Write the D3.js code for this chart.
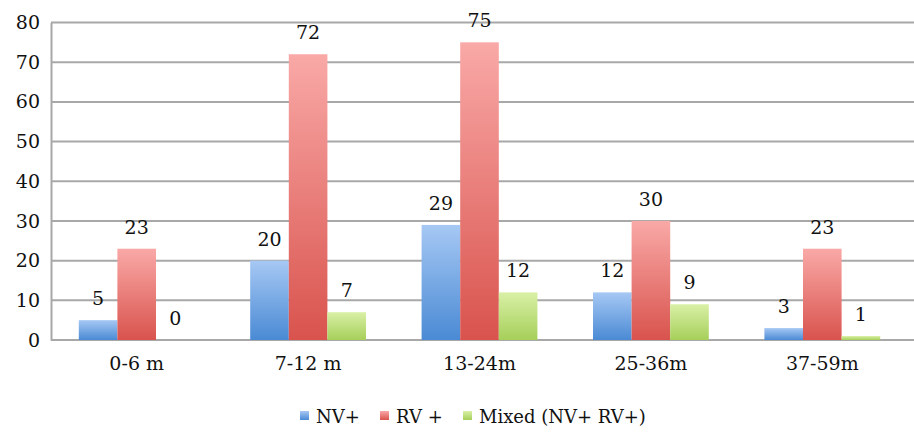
<!DOCTYPE html>
<html>
<head>
<meta charset="utf-8">
<script src="https://cdn.jsdelivr.net/npm/d3@7/dist/d3.min.js"></script>
<style>
  html, body { margin: 0; padding: 0; background: #fff; }
  svg { display: block; font-family: "DejaVu Serif", "Liberation Serif", serif; }
</style>
</head>
<body>
<svg id="chart" width="914" height="433"></svg>
<script>
// Age groups and case counts per virus type
const categories = ["0-6 m", "7-12 m", "13-24m", "25-36m", "37-59m"];
const seriesNames = ["NV+", "RV +", "Mixed (NV+ RV+)"];
const nvValues = [5, 20, 29, 12, 3];
const rvValues = [23, 72, 75, 30, 23];
const mixedValues = [0, 7, 12, 9, 1];
const yTicks = [0, 10, 20, 30, 40, 50, 60, 70, 80];

const seriesValues = [nvValues, rvValues, mixedValues];
const gradients = [
  { id: "g-nv", top: "#a6c8f4", bottom: "#4a8ad4" },
  { id: "g-rv", top: "#f9a9a7", bottom: "#d9534d" },
  { id: "g-mx", top: "#d9f0a6", bottom: "#a6cf5a" }
];

const svg = d3.select("#chart");
const plotLeft = 51, plotRight = 908, plotTop = 22.5, plotBottom = 340;

const defs = svg.append("defs");
gradients.forEach(g => {
  const lg = defs.append("linearGradient")
    .attr("id", g.id).attr("x1", 0).attr("y1", 0).attr("x2", 0).attr("y2", 1);
  lg.append("stop").attr("offset", "0%").attr("stop-color", g.top);
  lg.append("stop").attr("offset", "100%").attr("stop-color", g.bottom);
});

const x0 = d3.scaleBand().domain(categories).range([plotLeft, plotRight]).padding(0);
const x1 = d3.scaleBand().domain(d3.range(seriesNames.length))
  .range([0, x0.bandwidth()]).paddingInner(0).paddingOuter(0.72);
const y = d3.scaleLinear().domain([0, 80]).range([plotBottom, plotTop]);

// Horizontal gridlines
svg.append("g").selectAll("line").data(yTicks).join("line")
  .attr("x1", plotLeft).attr("x2", 914)
  .attr("y1", d => y(d)).attr("y2", d => y(d))
  .attr("stroke", "#a8a8a8").attr("stroke-width", 2);

// Y axis with tick labels
const yAxis = svg.append("g")
  .attr("transform", `translate(${plotLeft},0)`)
  .call(d3.axisLeft(y).tickValues(yTicks).tickSize(0).tickPadding(11));
yAxis.select(".domain").attr("stroke", "#a8a8a8").attr("stroke-width", 2);
yAxis.selectAll("text")
  .attr("font-family", "DejaVu Serif, serif").attr("font-size", 19).attr("fill", "#111");

// X axis category labels
const xAxis = svg.append("g")
  .attr("transform", `translate(0,${plotBottom})`)
  .call(d3.axisBottom(x0).tickSize(0).tickPadding(17));
xAxis.select(".domain").remove();
xAxis.selectAll("text")
  .attr("font-family", "DejaVu Serif, serif").attr("font-size", 19).attr("fill", "#111");

// Bars
const groups = svg.append("g").selectAll("g").data(categories).join("g")
  .attr("transform", d => `translate(${x0(d)},0)`);

const cells = groups.selectAll("g").data((c, ci) =>
  seriesValues.map((vals, si) => ({ si, v: vals[ci] }))).join("g");

cells.append("rect")
  .attr("x", d => x1(d.si))
  .attr("width", x1.bandwidth())
  .attr("y", d => y(d.v))
  .attr("height", d => plotBottom - y(d.v))
  .attr("fill", d => `url(#${gradients[d.si].id})`);

cells.append("text")
  .attr("x", d => x1(d.si) + x1.bandwidth() / 2)
  .attr("y", d => y(d.v) - 22)
  .attr("dominant-baseline", "central")
  .attr("text-anchor", "middle")
  .attr("font-size", 19).attr("fill", "#111")
  .text(d => d.v);

// Legend
const legendItems = [
  { name: seriesNames[0], x: 300 },
  { name: seriesNames[1], x: 380 },
  { name: seriesNames[2], x: 463 }
];
const legend = svg.append("g").selectAll("g").data(legendItems).join("g")
  .attr("transform", d => `translate(${d.x},412)`);
legend.append("rect")
  .attr("width", 9).attr("height", 9).attr("y", -1)
  .attr("fill", (d, i) => `url(#${gradients[i].id})`);
legend.append("text")
  .attr("x", 16).attr("y", 4)
  .attr("dominant-baseline", "central")
  .attr("font-size", 18).attr("fill", "#111")
  .text(d => d.name);
</script>
</body>
</html>
